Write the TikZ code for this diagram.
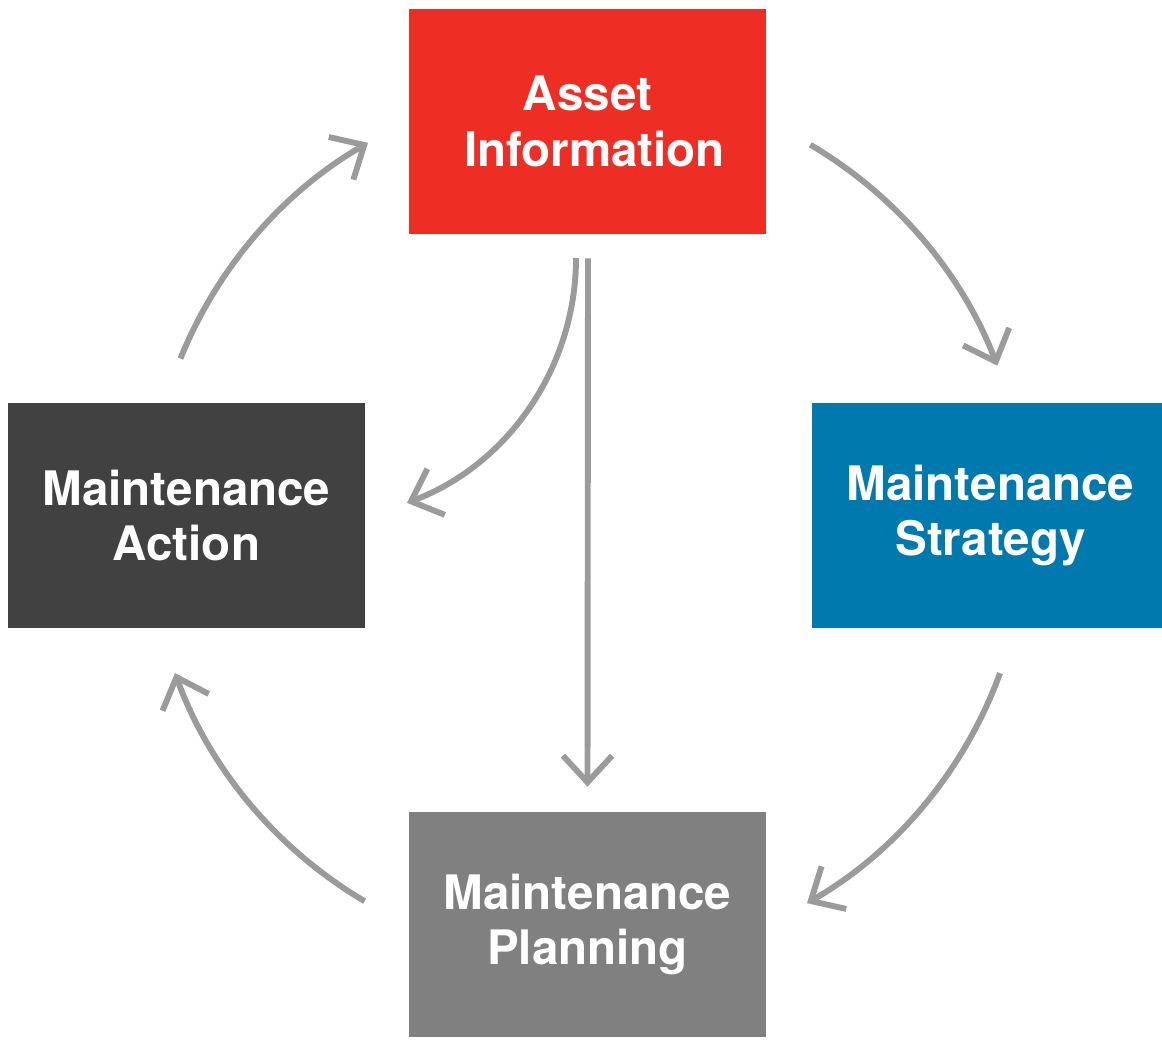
\documentclass[tikz,border=0pt]{standalone}
\usepackage{fontspec}
\setmainfont{TeX Gyre Heros}
\usetikzlibrary{arrows.meta}
\definecolor{assetred}{HTML}{EE2D24}
\definecolor{strategyblue}{HTML}{0079AF}
\definecolor{actiongray}{HTML}{414141}
\definecolor{planninggray}{HTML}{808080}
\definecolor{flowgray}{HTML}{9B9B9B}
\begin{document}
\begin{tikzpicture}[x=.025cm,y=.025cm,
	box/.style={minimum width=8.925cm,minimum height=5.625cm,inner sep=0pt,text=white,
		font=\bfseries\fontsize{33.8}{39.5}\selectfont,align=center},
	flow/.style={draw=flowgray,line width=4.2pt,-{Straight Barb[length=19pt,width=35pt]}}]
	\useasboundingbox (0,0) rectangle (1162,1040);
	
	\node[box,fill=assetred] (asset) at (587.5,918.5) {Asset\\\hspace*{10pt}Information};
	\node[box,fill=strategyblue] (strategy) at (990.5,524.5) {Maintenance\\Strategy};
	\node[box,fill=actiongray] (action) at (186.5,524.5) {Maintenance\\Action};
	\node[box,fill=planninggray] (planning) at (587.5,115.5) {Maintenance\\Planning};
	
	\coordinate (hub) at (587.5,517);
	\draw[flow] ([shift={(59.5:439)}]hub) arc[start angle=59.5,end angle=21,radius=439];
	\draw[flow] ([shift={(-20:439)}]hub) arc[start angle=-20,end angle=-60,radius=439];
	\draw[flow] ([shift={(-120.5:439)}]hub) arc[start angle=-120.5,end angle=-160,radius=439];
	\draw[flow] ([shift={(158:439)}]hub) arc[start angle=158,end angle=120,radius=439];
	
	\coordinate (split) at (576,782);
	\draw[flow] (split) arc[start angle=0,end angle=-69.2,radius=262];
	\draw[flow] (asset.south) ++(0.5,-24) -- ([yshift=25*.025cm]planning.north);
\end{tikzpicture}
\end{document}
